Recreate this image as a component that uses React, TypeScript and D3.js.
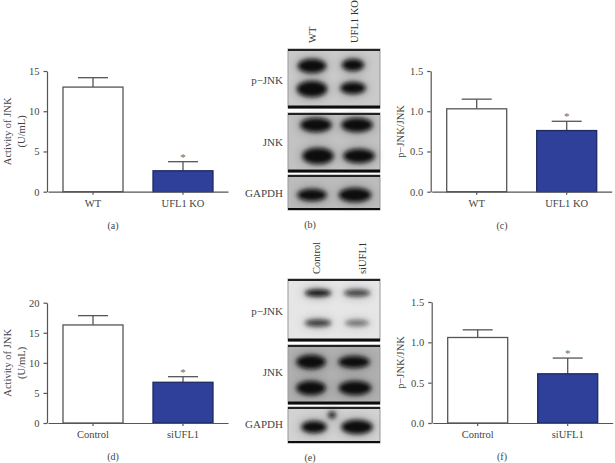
import { useEffect, useRef } from "react";
import * as d3 from "d3";

// values
const koGroups = ["WT", "UFL1 KO"];
const siGroups = ["Control", "siUFL1"];

const activityKo = [13, 2.6];
const activityKoErr = [14.17, 3.73];
const ratioKo = [1.03, 0.76];
const ratioKoErr = [1.15, 0.875];
const activitySi = [16.3, 6.77];
const activitySiErr = [17.85, 7.7];
const ratioSi = [1.06, 0.61];
const ratioSiErr = [1.155, 0.805];

const activityKoTicks = [0, 5, 10, 15];
const activitySiTicks = [0, 5, 10, 15, 20];
const ratioTicks = [0, 0.5, 1, 1.5];

const blotLabels = ["p\u2212JNK", "JNK", "GAPDH"];

// membrane strips: [top, bottom, grey] in membrane units
const koStrips = [
  [0, 59, "#cacaca"],
  [64, 123, "#c2c2c2"],
  [126, 161, "#bcbcbc"],
];
const siStrips = [
  [0, 62, "#e6e6e6"],
  [66, 125, "#b0b0b0"],
  [128, 164, "#d2d2d2"],
];

// bands: [x, y, spreadX, spreadY, darkness] in membrane units
const koBands = [
  [24, 17, 14, 7, 1],
  [65, 16, 11, 6, 1],
  [24, 40, 15, 8, 1],
  [65, 39, 12.5, 6, 1],
  [28, 76, 15.5, 7, 1],
  [69, 76, 15.5, 7, 1],
  [30, 107, 15.5, 8, 1],
  [71, 107, 15.5, 7, 1],
  [24, 146, 14.5, 6, 1],
  [67, 146, 16, 7, 1],
];
const siBands = [
  [30, 14, 13, 3.5, 0.95],
  [69, 14, 13, 3.5, 0.7],
  [30, 44, 13, 3.5, 0.75],
  [69, 44, 12, 3, 0.5],
  [23, 83, 14.5, 7, 1],
  [66, 83, 15.5, 6, 1],
  [23, 109, 14.5, 7, 1],
  [67, 109, 16, 7, 1],
  [26, 148, 12.5, 6, 1],
  [69, 148, 15.5, 7, 1],
  [44, 136, 3.5, 3, 1],
];

const textColor = "#444";
const axisColor = "#555";
const barBlue = "#2e4099";
const serif = "'Liberation Serif', serif";

type PanelProps = {
  left: number;
  top: number;
  bottom: number;
  categories: string[];
  values: number[];
  errors: number[];
  ticks: number[];
  domainMax: number;
  format: string;
  letter: string;
  letterX: number;
  yLabel: string[];
  yLabelX: number[];
};

const BarPanel = ({ left, top, bottom, categories, values, errors, ticks, domainMax, format, letter, letterX, yLabel, yLabelX }: PanelProps) => {
  const ref = useRef<SVGGElement>(null);

  useEffect(() => {
    const g = d3.select(ref.current);
    g.selectAll("*").remove();

    const yScale = d3.scaleLinear().domain([0, domainMax]).range([bottom, top]);
    const xScale = d3
      .scaleBand()
      .domain(categories)
      .range([left + 1, left + 181])
      .paddingInner(1 / 3)
      .paddingOuter(1 / 6);
    const bw = xScale.bandwidth();

    // error bars under the boxes
    categories.forEach((c, i) => {
      const cx = xScale(c)! + bw / 2;
      g.append("line").attr("x1", cx).attr("x2", cx).attr("y1", yScale(values[i])).attr("y2", yScale(errors[i])).attr("stroke", "#555").attr("stroke-width", 1.3);
      g.append("line").attr("x1", cx - 15).attr("x2", cx + 15).attr("y1", yScale(errors[i])).attr("y2", yScale(errors[i])).attr("stroke", "#555").attr("stroke-width", 1.3);
    });

    categories.forEach((c, i) => {
      g.append("rect")
        .attr("x", xScale(c)!)
        .attr("y", yScale(values[i]))
        .attr("width", bw)
        .attr("height", yScale(0) - yScale(values[i]))
        .attr("fill", i === 0 ? "#fff" : barBlue)
        .attr("stroke", i === 0 ? "#555" : "#1c2a60")
        .attr("stroke-width", 1.3);
    });

    // star above the treated group
    const last = categories[1];
    g.append("text")
      .attr("x", xScale(last)! + bw / 2)
      .attr("y", yScale(errors[1]) - 1)
      .attr("text-anchor", "middle")
      .style("font-family", serif)
      .style("font-size", "11px")
      .style("fill", "#666")
      .text("*");

    const xAxis = g
      .append("g")
      .attr("transform", `translate(0,${bottom})`)
      .call(d3.axisBottom(xScale).tickSize(3).tickPadding(5).tickSizeOuter(0));
    xAxis.selectAll("text").style("font-family", serif).style("font-size", "10.5px").style("fill", textColor);
    xAxis.selectAll("line, path").style("stroke", axisColor).style("stroke-width", 1.2);

    const yAxis = g
      .append("g")
      .attr("transform", `translate(${left},0)`)
      .call(d3.axisLeft(yScale).tickValues(ticks).tickFormat(d3.format(format) as any).tickSize(3.5).tickPadding(4).tickSizeOuter(0));
    yAxis.selectAll("text").style("font-family", serif).style("font-size", "10.5px").style("fill", textColor);
    yAxis.selectAll("line, path").style("stroke", axisColor).style("stroke-width", 1.2);

    yLabel.forEach((line, i) => {
      g.append("text")
        .attr("transform", `translate(${yLabelX[i]},${(top + bottom) / 2}) rotate(-90)`)
        .attr("text-anchor", "middle")
        .style("font-family", serif)
        .style("font-size", "10.5px")
        .style("fill", textColor)
        .text(line);
    });

    g.append("text")
      .attr("x", letterX)
      .attr("y", bottom + 37)
      .attr("text-anchor", "middle")
      .style("font-family", serif)
      .style("font-size", "10px")
      .style("fill", textColor)
      .text(`(${letter})`);
  }, []);

  return <g ref={ref} />;
};

type BlotProps = {
  top: number;
  strips: any[][];
  bands: number[][];
  lanes: string[];
  laneX: number[];
  laneBottom: number;
  labelY: number[];
  letter: string;
  letterY: number;
};

const BlotPanel = ({ top, strips, bands, lanes, laneX, laneBottom, labelY, letter, letterY }: BlotProps) => {
  const x = d3.scaleLinear().domain([0, 92]).range([288, 380]);
  const y = d3.scaleLinear().domain([0, 100]).range([top, top + 100]);
  const w = x(92) - x(0);
  return (
    <g>
      {strips.map((s, i) => (
        <g key={i} filter="url(#soft)">
          <rect x={x(0)} y={y(s[0])} width={w} height={y(s[1]) - y(s[0])} fill={s[2]} stroke="#999" strokeWidth={1} />
          <line x1={x(0)} x2={x(92)} y1={y(s[0]) + 1} y2={y(s[0]) + 1} stroke="#222" strokeWidth={2} />
          <line x1={x(0)} x2={x(92)} y1={y(s[1]) - 1} y2={y(s[1]) - 1} stroke="#111" strokeWidth={i === 2 ? 2 : 3} />
        </g>
      ))}
      {bands.map((b, i) => (
        <ellipse key={`h${i}`} cx={x(b[0])} cy={y(b[1])} rx={b[2] + 3} ry={b[3] + 3} fill="#444" opacity={0.3 * b[4]} filter="url(#halo)" />
      ))}
      {bands.map((b, i) => (
        <ellipse key={i} cx={x(b[0])} cy={y(b[1])} rx={b[2]} ry={b[3]} fill="#0a0a0a" opacity={b[4]} filter="url(#band)" />
      ))}
      {lanes.map((l, i) => (
        <text key={l} transform={`translate(${laneX[i]},${laneBottom}) rotate(-90)`} dy="0.32em" fontFamily={serif} fontSize={10.5} fill="#333">
          {l}
        </text>
      ))}
      {blotLabels.map((l, i) => (
        <text key={l} x={283} y={labelY[i]} dy="0.32em" textAnchor="end" fontFamily={serif} fontSize={11} fill={textColor}>
          {l}
        </text>
      ))}
      <text x={310} y={letterY} dy="0.32em" textAnchor="middle" fontFamily={serif} fontSize={10} fill={textColor}>
        {`(${letter})`}
      </text>
    </g>
  );
};

export default function App() {
  return (
    <svg width={615} height={463} style={{ position: "absolute", left: 0, top: 0, background: "#fff" }}>
      <defs>
        <filter id="band" x="-40%" y="-60%" width="180%" height="220%">
          <feGaussianBlur stdDeviation="1.9" />
        </filter>
        <filter id="halo" x="-60%" y="-100%" width="220%" height="300%">
          <feGaussianBlur stdDeviation="4" />
        </filter>
        <filter id="soft" x="-5%" y="-10%" width="110%" height="120%">
          <feGaussianBlur stdDeviation="0.5" />
        </filter>
      </defs>
      <BarPanel left={47} top={71} bottom={191.7} categories={koGroups} values={activityKo} errors={activityKoErr} ticks={activityKoTicks} domainMax={15} format="d" letter="a" letterX={113} yLabel={["Activity of JNK", "(U/mL)"]} yLabelX={[11, 25]} />
      <BarPanel left={430.7} top={71} bottom={191.7} categories={koGroups} values={ratioKo} errors={ratioKoErr} ticks={ratioTicks} domainMax={1.5} format=".1f" letter="c" letterX={502} yLabel={["p\u2212JNK/JNK"]} yLabelX={[404]} />
      <BarPanel left={47} top={302.7} bottom={423} categories={siGroups} values={activitySi} errors={activitySiErr} ticks={activitySiTicks} domainMax={20} format="d" letter="d" letterX={113} yLabel={["Activity of JNK", "(U/mL)"]} yLabelX={[11, 25]} />
      <BarPanel left={431.7} top={302} bottom={423} categories={siGroups} values={ratioSi} errors={ratioSiErr} ticks={ratioTicks} domainMax={1.5} format=".1f" letter="f" letterX={502} yLabel={["p\u2212JNK/JNK"]} yLabelX={[404]} />
      <BlotPanel top={49} strips={koStrips} bands={koBands} lanes={koGroups} laneX={[313, 355]} laneBottom={43} labelY={[80, 142, 193]} letter="b" letterY={225} />
      <BlotPanel top={279} strips={siStrips} bands={siBands} lanes={siGroups} laneX={[317, 363]} laneBottom={274} labelY={[311, 372, 424]} letter="e" letterY={458} />
    </svg>
  );
}
